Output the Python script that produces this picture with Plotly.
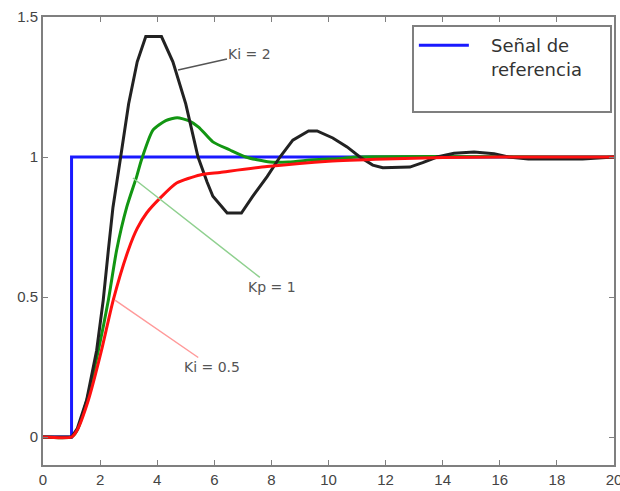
import plotly.graph_objects as go

# Reference step
ref_t = [0, 1, 1, 20]
ref_y = [0, 0, 1, 1]

# Ki = 2 (black)
ki2_t = [0, 1, 1.2, 1.53, 1.88, 2.11, 2.29, 2.45, 2.72, 3.0, 3.3, 3.6, 4.15, 4.55, 5.0, 5.43,
         5.75, 5.95, 6.45, 6.95, 7.35, 7.85, 8.3, 8.75, 9.3, 9.6, 10.15, 10.65, 11.1, 11.55,
         11.9, 12.85, 13.3, 13.8, 14.4, 15.1, 15.8, 16.3, 17.0, 18.9, 20]
ki2_y = [0, 0, 0.03, 0.132, 0.31, 0.489, 0.668, 0.82, 1.0, 1.19, 1.34, 1.43, 1.43, 1.34,
         1.19, 1.0, 0.91, 0.86, 0.80, 0.80, 0.86, 0.93, 1.0, 1.06, 1.093, 1.093, 1.068, 1.036,
         1.0, 0.971, 0.962, 0.964, 0.98, 1.0, 1.013, 1.018, 1.012, 1.0, 0.993, 0.993, 1.0]

# Kp = 1 (green)
kp1_t = [0, 1, 1.2, 1.53, 1.94, 2.29, 2.58, 2.93, 3.28, 3.45, 3.85, 4.3, 4.7, 5.1, 5.45,
         5.95, 6.55, 7.1, 7.5, 7.95, 8.6, 9.5, 10.5, 11, 20]
kp1_y = [0, 0, 0.025, 0.13, 0.31, 0.489, 0.668, 0.82, 0.93, 0.99, 1.096, 1.13,
         1.14, 1.13, 1.107, 1.054, 1.025, 1.0, 0.99, 0.982, 0.982, 0.99, 0.995, 1.0, 1.0]

# Ki = 0.5 (red)
ki05_t = [0, 1, 1.2, 1.59, 2.05, 2.46, 2.99, 3.3, 3.63, 4.1, 4.68, 5.5, 6.2, 7.85,
          10.0, 12.0, 14.0, 16.0, 20]
ki05_y = [0, 0, 0.025, 0.132, 0.31, 0.489, 0.668, 0.745, 0.80, 0.853, 0.907, 0.936, 0.945,
          0.966, 0.985, 0.993, 0.998, 1.0, 1.0]

x_ticks = [0, 2, 4, 6, 8, 10, 12, 14, 16, 18, 20]
y_ticks = [0, 0.5, 1, 1.5]
y_tick_text = ["0", "0.5", "1", "1.5"]

NB = "\u00a0"

fig = go.Figure()
fig.add_trace(go.Scatter(x=ref_t, y=ref_y, mode="lines",
                         name=NB * 3 + "Señal de<br>" + NB * 3 + "referencia" + NB * 4 + "<br>" + NB,
                         line=dict(color="#1a1aff", width=3)))
fig.add_trace(go.Scatter(x=kp1_t, y=kp1_y, mode="lines", showlegend=False,
                         line=dict(color="#129612", width=3, shape="spline", smoothing=0.6)))
fig.add_trace(go.Scatter(x=ki2_t, y=ki2_y, mode="lines", showlegend=False,
                         line=dict(color="#222222", width=3)))
fig.add_trace(go.Scatter(x=ki05_t, y=ki05_y, mode="lines", showlegend=False,
                         line=dict(color="#ff1010", width=3, shape="spline", smoothing=0.6)))

ann_font = dict(family="DejaVu Sans", size=14, color="#555555")
fig.add_annotation(x=4.73, y=1.311, ax=7.25, ay=1.368, axref="x", ayref="y",
                   text="Ki = 2", showarrow=True, arrowhead=0, arrowwidth=1.5,
                   arrowcolor="#555555", font=ann_font)
fig.add_annotation(x=3.15, y=0.925, ax=8.02, ay=0.536, axref="x", ayref="y",
                   text="Kp = 1", showarrow=True, arrowhead=0, arrowwidth=1.5,
                   arrowcolor="#8fd08f", font=ann_font)
fig.add_annotation(x=2.52, y=0.489, ax=5.92, ay=0.25, axref="x", ayref="y",
                   text="Ki = 0.5", showarrow=True, arrowhead=0, arrowwidth=1.5,
                   arrowcolor="#ff9a9a", font=ann_font)

axis_common = dict(showgrid=False, zeroline=False, showline=True, linecolor="#7f7f7f",
                   linewidth=2, mirror="ticks", ticks="inside", ticklen=5,
                   tickcolor="#7f7f7f", tickwidth=1, automargin=False,
                   ticklabeloverflow="allow",
                   tickfont=dict(family="Liberation Sans", size=15, color="#444444"))

fig.update_xaxes(range=[0, 20], tickvals=x_ticks, **axis_common)
fig.update_yaxes(range=[-0.1, 1.5], tickvals=y_ticks, ticktext=y_tick_text, **axis_common)

fig.update_layout(
    width=620, height=491,
    margin=dict(l=43, r=6, t=17, b=26, autoexpand=False),
    plot_bgcolor="white", paper_bgcolor="white",
    legend=dict(x=0.646, y=0.982, xanchor="left", yanchor="top",
                bgcolor="white", bordercolor="#7f7f7f", borderwidth=2,
                font=dict(family="DejaVu Sans", size=18, color="#333333"),
                valign="top", itemwidth=50),
)

fig.write_html("out.html", config={"displayModeBar": False},
               post_script="document.body.style.margin='0px';document.body.style.overflow='hidden';")
